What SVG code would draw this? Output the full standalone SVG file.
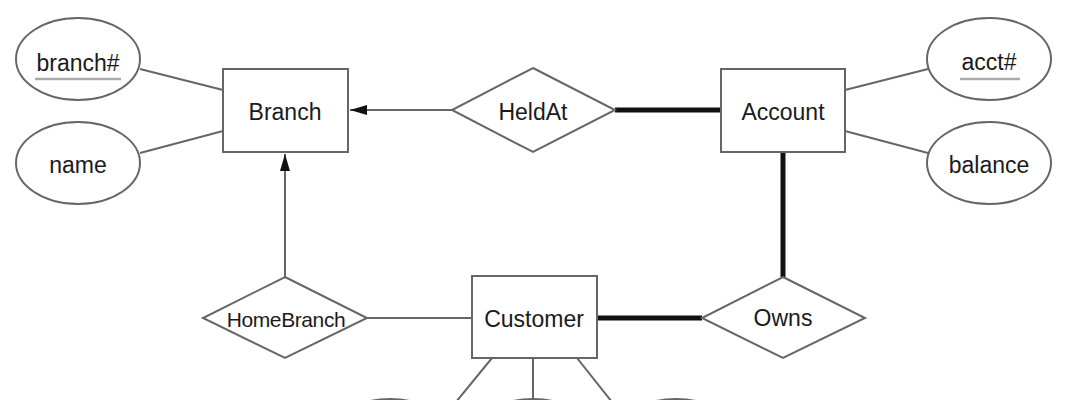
<svg xmlns="http://www.w3.org/2000/svg" width="1086" height="400" viewBox="0 0 1086 400">
<style>
.ent{fill:#fff;stroke:#666;stroke-width:2}
.rel{fill:#fff;stroke:#666;stroke-width:2}
.att{fill:#fff;stroke:#666;stroke-width:2}
.t{font-family:"Liberation Sans",Arial,sans-serif;font-size:23px;fill:#1a1a1a;text-anchor:middle}
.sm{font-size:21px}
.thin{stroke:#666;stroke-width:2;fill:none}
.thick{stroke:#111;stroke-width:5;fill:none}
.key{stroke:#aaa;stroke-width:2.5}
</style>
<defs>
<marker id="arr" markerWidth="18" markerHeight="12" refX="17" refY="6" orient="auto" markerUnits="userSpaceOnUse">
<path d="M0,1 L17,6 L0,11 Z" fill="#111"/>
</marker>
</defs>
<rect width="1086" height="400" fill="#fff"/>
<g id="connectors">
<line class="thin" x1="140" y1="69" x2="223" y2="90"/>
<line class="thin" x1="140" y1="153" x2="223" y2="131"/>
<line class="thin" x1="845" y1="90" x2="928" y2="69"/>
<line class="thin" x1="845" y1="131" x2="928" y2="153"/>
<line class="thin" x1="452" y1="110" x2="350" y2="110" marker-end="url(#arr)"/>
<line class="thin" x1="285" y1="277" x2="285" y2="154" marker-end="url(#arr)"/>
<line class="thick" x1="615" y1="110" x2="721" y2="110"/>
<line class="thick" x1="783" y1="152" x2="783" y2="277"/>
<line class="thick" x1="597" y1="318" x2="702" y2="318"/>
<line class="thin" x1="367" y1="318" x2="472" y2="318"/>
<line class="thin" x1="492" y1="358" x2="456" y2="402"/>
<line class="thin" x1="533" y1="358" x2="533" y2="402"/>
<line class="thin" x1="577" y1="358" x2="612" y2="402"/>
</g>
<g id="branch_no">
<ellipse class="att" cx="78" cy="59" rx="62" ry="41"/>
<text class="t" x="78" y="71">branch#</text>
<line class="key" x1="35" y1="79" x2="121" y2="79"/>
</g>
<g id="name">
<ellipse class="att" cx="78" cy="163" rx="62" ry="41"/>
<text class="t" x="78" y="173">name</text>
</g>
<g id="acct_no">
<ellipse class="att" cx="989" cy="59" rx="62" ry="41"/>
<text class="t" x="989" y="70">acct#</text>
<line class="key" x1="960" y1="79" x2="1020" y2="79"/>
</g>
<g id="balance">
<ellipse class="att" cx="989" cy="163" rx="62" ry="41"/>
<text class="t" x="989" y="173">balance</text>
</g>
<g id="Branch">
<rect class="ent" x="223" y="69" width="125" height="83"/>
<text class="t" x="285" y="120">Branch</text>
</g>
<g id="Account">
<rect class="ent" x="721" y="69" width="124" height="83"/>
<text class="t" x="783" y="120">Account</text>
</g>
<g id="Customer">
<rect class="ent" x="472" y="276" width="125" height="82"/>
<text class="t" x="534" y="327">Customer</text>
</g>
<g id="HeldAt">
<polygon class="rel" points="533,68 615,110 533,152 452,110"/>
<text class="t" x="533" y="120">HeldAt</text>
</g>
<g id="Owns">
<polygon class="rel" points="783,277 865,318 783,358 702,318"/>
<text class="t" x="783" y="326">Owns</text>
</g>
<g id="HomeBranch">
<polygon class="rel" points="285,277 367,318 285,358 203,318"/>
<text class="t sm" x="286" y="327" letter-spacing="-0.4">HomeBranch</text>
</g>
<g id="cust_attr1"><ellipse class="att" cx="390" cy="440" rx="62" ry="41"/></g>
<g id="cust_attr2"><ellipse class="att" cx="533" cy="440" rx="62" ry="41"/></g>
<g id="cust_attr3"><ellipse class="att" cx="676" cy="440" rx="62" ry="41"/></g>
</svg>
